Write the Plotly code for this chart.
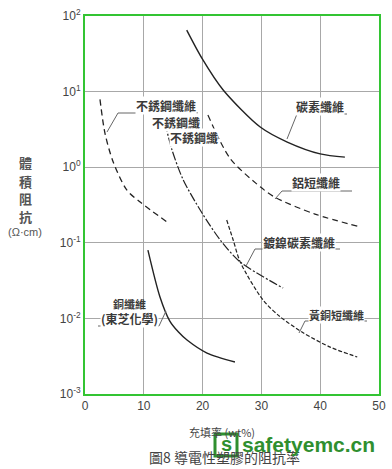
import plotly.graph_objects as go

# ---------------- data ----------------
carbon_x = [17.3, 19.9, 23.5, 29.8, 34.4, 40.0, 44.2]
carbon_y = [65.0, 27.5, 10.5, 3.4, 2.15, 1.5, 1.36]

stainless_x = [2.55, 3.4, 4.8, 7.1, 9.5, 13.9]
stainless_y = [7.9, 2.8, 1.17, 0.50, 0.34, 0.19]

nickel_x = [13.6, 14.8, 16.7, 19.9, 23.0, 26.4, 33.7]
nickel_y = [3.85, 1.69, 0.68, 0.248, 0.109, 0.0557, 0.0252]

alu_x = [20.9, 24.7, 29.8, 32.3, 39.1, 46.8]
alu_y = [4.9, 1.3, 0.55, 0.40, 0.24, 0.162]

brass_x = [24.1, 25.2, 26.4, 30.3, 33.2, 37.1, 41.7, 46.3]
brass_y = [0.20, 0.109, 0.0557, 0.0174, 0.0105, 0.00646, 0.00417, 0.00309]

copper_x = [10.7, 12.75, 14.4, 15.9, 17.35, 20.75, 25.5]
copper_y = [0.080, 0.0192, 0.0093, 0.0066, 0.00518, 0.00348, 0.00265]

x_ticks = [0, 10, 20, 30, 40, 50]
y_ticks = [0.001, 0.01, 0.1, 1, 10, 100]
y_tick_text = ["10<sup>-3</sup>", "10<sup>-2</sup>", "10<sup>-1</sup>",
               "10<sup>0</sup>", "10<sup>1</sup>", "10<sup>2</sup>"]

# ---------------- layout helpers ----------------
W, H = 392, 469
L, R, T, B = 85, 379, 16, 394


def px(x):
    return (x - L) / (R - L)


def py(y):
    return (B - y) / (B - T)


INK = "#3a3a3a"
CJK = "Noto Sans CJK TC"
fig = go.Figure()

series = [
    (carbon_x, carbon_y, "solid", 1.4),
    (stainless_x, stainless_y, "6px,4px", 1.3),
    (nickel_x, nickel_y, "9px,2px,2px,2px", 1.2),
    (alu_x, alu_y, "6px,4px", 1.2),
    (brass_x, brass_y, "4px,2px", 1.2),
    (copper_x, copper_y, "solid", 1.4),
]
for xs, ys, dash, w in series:
    fig.add_trace(go.Scatter(x=xs, y=ys, mode="lines",
                             line=dict(color="#222222", width=w, dash=dash,
                                       shape="spline", smoothing=0.8),
                             showlegend=False, hoverinfo="skip"))

annotations = []
shapes = []


def label(text, x_px, y_px, size=12, anchor="center", bg="white"):
    annotations.append(dict(text=text, xref="paper", yref="paper",
                            x=px(x_px), y=py(y_px), xanchor=anchor,
                            yanchor="middle", showarrow=False,
                            bgcolor=bg, borderpad=0,
                            font=dict(family=CJK, size=size, color=INK,
                                      weight="bold")))


def leader(pts):
    path = "M " + " L ".join(f"{px(a)},{py(b)}" for a, b in pts)
    shapes.append(dict(type="path", xref="paper", yref="paper", path=path,
                       line=dict(color="#666666", width=1)))


label("碳素纖維", 320, 107)
leader([(347, 114), (297, 114), (287, 139)])

label("不銹鋼纖維", 166, 105)
leader([(198, 113), (118, 113), (107, 132)])
label("不銹鋼纖", 176, 122)
label("不銹鋼纖", 194, 137)

label("鋁短纖維", 316, 183)
leader([(352, 191), (282, 191), (275, 199)])

label("鍍鎳碳素纖維", 299, 242)
leader([(340, 249), (255, 249), (246, 266)])

label("黃銅短纖維", 336, 315, size=11)
leader([(367, 321), (305, 321), (299, 333)])

label("銅纖維", 129, 304, size=11, bg="rgba(0,0,0,0)")
label("(東芝化學)", 129, 318, size=12)
leader([(98, 326), (159, 326), (166, 311)])

# y axis title (vertical stacked characters)
for ch, yy in zip(["體", "積", "阻", "抗"], [163, 181, 199, 216]):
    annotations.append(dict(text=ch, xref="paper", yref="paper",
                            x=px(25), y=py(yy), showarrow=False,
                            xanchor="center", yanchor="middle",
                            font=dict(family=CJK, size=13, color="#555555",
                                      weight="bold")))
annotations.append(dict(text="(Ω·cm)", xref="paper", yref="paper",
                        x=px(25), y=py(232), showarrow=False,
                        xanchor="center", yanchor="middle",
                        font=dict(family="Liberation Sans", size=11,
                                  color="#555555")))

# x axis title
annotations.append(dict(text="充填率 (wt%)", xref="paper", yref="paper",
                        x=px(187), y=py(432), showarrow=False,
                        xanchor="left", yanchor="middle",
                        font=dict(family=CJK, size=11, color="#444444")))

# caption
annotations.append(dict(text="圖8 導電性塑膠的阻抗率", xref="paper",
                        yref="paper", x=px(147), y=py(457), showarrow=False,
                        xanchor="left", yanchor="middle",
                        font=dict(family=CJK, size=14, color="#444444")))

# watermark
shapes.append(dict(type="rect", xref="paper", yref="paper",
                   x0=px(215), x1=px(237), y0=py(456), y1=py(434),
                   line=dict(color="#2f8f2f", width=3), fillcolor="white"))
annotations.append(dict(text="s", xref="paper", yref="paper",
                        x=px(226), y=py(444), showarrow=False,
                        xanchor="center", yanchor="middle",
                        font=dict(family="Liberation Sans", size=20,
                                  color="#2f8f2f", weight="bold")))
annotations.append(dict(text="safetyemc.cn", xref="paper", yref="paper",
                        x=px(240), y=py(444), showarrow=False,
                        xanchor="left", yanchor="middle",
                        font=dict(family="Liberation Sans", size=21,
                                  color="#2f8f2f", weight="bold")))

axis_line = dict(showline=True, linecolor="#33c433", linewidth=2,
                 mirror=True, showgrid=True, gridcolor="#a8a8a8",
                 gridwidth=1, zeroline=False, ticks="", automargin=False,
                 tickfont=dict(family="Liberation Sans", size=12,
                               color="#444444"))

fig.update_layout(
    width=W, height=H,
    margin=dict(l=L, r=W - R, t=T, b=H - B, autoexpand=False),
    paper_bgcolor="white", plot_bgcolor="white",
    xaxis=dict(range=[0, 50], tickvals=x_ticks, **axis_line),
    yaxis=dict(type="log", range=[-3, 2], tickvals=y_ticks,
               ticktext=y_tick_text, **axis_line),
    annotations=annotations, shapes=shapes,
)

fig.write_html("out.html",
               config={"displayModeBar": False},
               post_script="document.body.style.margin='0px';"
                           "document.body.style.overflow='hidden';")
